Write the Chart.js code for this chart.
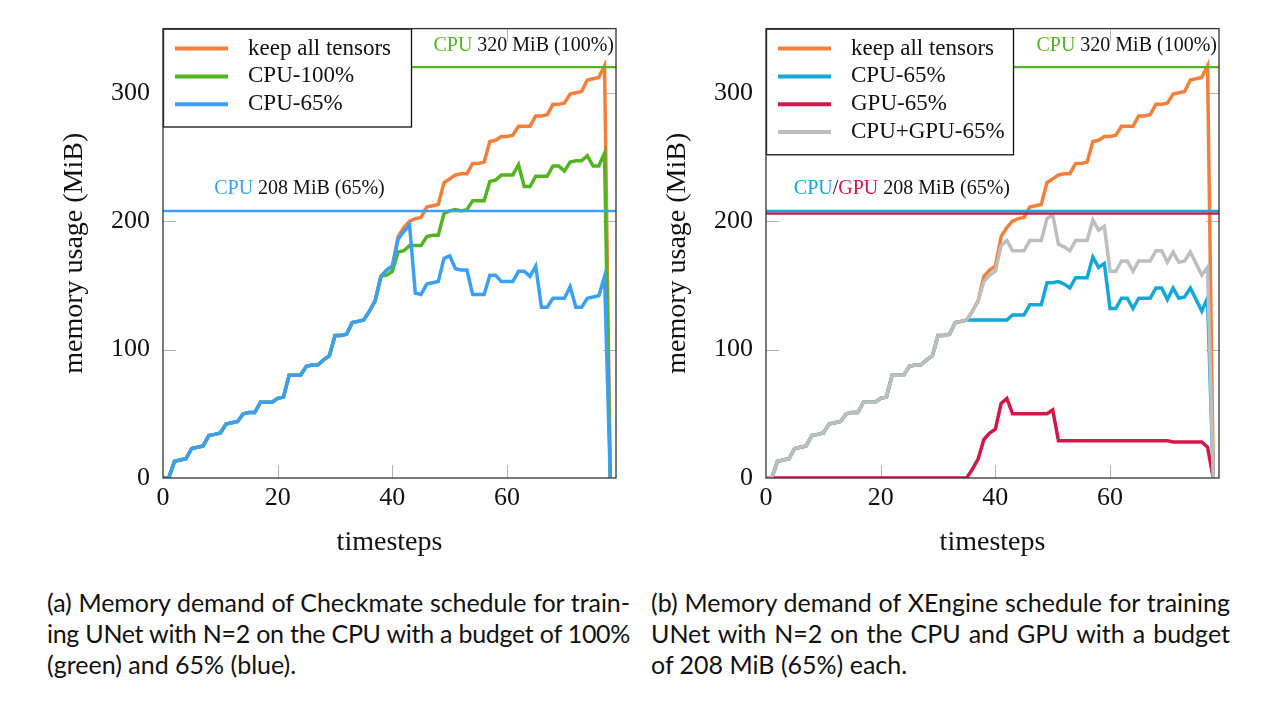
<!DOCTYPE html>
<html><head><meta charset="utf-8">
<script src="https://cdn.jsdelivr.net/npm/chart.js@4.4.1/dist/chart.umd.min.js"></script>
<style>
body{margin:0;background:#fff;width:1278px;height:718px;position:relative;overflow:hidden}
.wrap{position:absolute;top:0;width:639px;height:580px}
.cap{position:absolute;font-family:Lato,'Noto Sans',sans-serif;font-size:25px;color:#111;line-height:31px}
.cap div{white-space:nowrap}
.j{text-align:justify;text-align-last:justify}
</style></head>
<body>
<div class="wrap" style="left:0"><canvas id="ca" width="639" height="580"></canvas></div>
<div class="wrap" style="left:639px"><canvas id="cb" width="639" height="580"></canvas></div>
<div class="cap" style="left:47px;top:587px;width:583px">
<div class="j"><span>(a) Memory demand of Checkmate schedule for train-</span></div>
<div class="j"><span>ing UNet with N=2 on the CPU with a budget of 100%</span></div>
<div><span>(green) and 65% (blue).</span></div>
</div>
<div class="cap" style="left:651px;top:587px;width:579px">
<div class="j"><span>(b) Memory demand of XEngine schedule for training</span></div>
<div class="j"><span>UNet with N=2 on the CPU and GPU with a budget</span></div>
<div><span>of 208 MiB (65%) each.</span></div>
</div>
<script>
// ---------- data ----------
const timesteps = [0,1,2,3,4,5,6,7,8,9,10,11,12,13,14,15,16,17,18,19,20,21,22,23,24,25,26,27,28,29,30,31,32,33,34,35,36,37,38,39,40,41,42,43,44,45,46,47,48,49,50,51,52,53,54,55,56,57,58,59,60,61,62,63,64,65,66,67,68,69,70,71,72,73,74,75,76,77,78];
const xTicks = [0,20,40,60];
const yTicks = [0,100,200,300];
const keepAll = [0,0,13,14,15,23,24,25,33,34, 35,42,43,44,50,51,51,59,59,59, 62,63,80,80,80,87,88,88,92,95, 111,111,112,121,122,123,130,138,157,162, 165,188,195,200,202,203,211,212,213,230, 233,236,237,237,245,245,246,262,263,266, 266,267,274,274,274,282,282,283,291,291, 292,299,300,301,310,311,312,321,0];
const cpu100A = [0,0,13,14,15,23,24,25,33,34, 35,42,43,44,50,51,51,59,59,59, 62,63,80,80,80,87,88,88,92,95, 111,111,112,121,122,123,130,138,157,158, 161,176,177,181,181,181,188,189,189,206, 208,209,208,209,216,216,216,231,232,236, 236,236,244,227,227,235,235,235,243,243, 239,246,247,247,251,243,243,253,0];
const cpu65A = [0,0,13,14,15,23,24,25,33,34, 35,42,43,44,50,51,51,59,59,59, 62,63,80,80,80,87,88,88,92,95, 111,111,112,121,122,123,130,138,157,162, 165,186,192,197,144,143,151,152,153,171, 173,163,162,162,143,143,143,158,158,153, 153,153,161,161,157,165,133,133,140,140, 140,149,133,133,140,141,142,157,0];
const cpu65B = [0,0,13,14,15,23,24,25,33,34, 35,42,43,44,50,51,51,59,59,59, 62,63,80,80,80,87,88,88,92,95, 111,111,112,121,122,123,123,123,123,123, 123,123,123,127,127,127,135,135,135,152, 152,153,151,148,156,156,156,172,164,167, 132,132,140,140,132,140,140,140,148,148, 139,148,140,141,148,139,130,140,0];
const gpu65B = [0,0,0,0,0,0,0,0,0,0, 0,0,0,0,0,0,0,0,0,0, 0,0,0,0,0,0,0,0,0,0, 0,0,0,0,0,0,7,15,30,35, 38,58,62,50,50,50,50,50,50,50, 53,29,29,29,29,29,29,29,29,29, 29,29,29,29,29,29,29,29,29,29, 29,28,28,28,28,28,28,24,0];
const cpuGpuB = [0,0,13,14,15,23,24,25,33,34, 35,42,43,44,50,51,51,59,59,59, 62,63,80,80,80,87,88,88,92,95, 111,111,112,121,122,123,130,138,153,158, 161,181,185,177,177,177,185,185,185,202, 205,182,180,177,185,185,185,201,193,196, 161,161,169,169,161,169,169,169,177,177, 168,176,168,169,176,167,158,164,0];
const budgetCPU100 = [320, 320];
const budgetCPU65 = [208, 208];
const budgetGPU65 = [206, 206];
const budgetX = [0, 79];

// ---------- caption fitting ----------
document.querySelectorAll('.cap').forEach(cap=>{
  const W = parseFloat(cap.style.width);
  cap.querySelectorAll('span').forEach(sp=>{
    const nat = sp.getBoundingClientRect().width;
    if (nat > W) sp.parentNode.style.letterSpacing = ((W-nat)/sp.textContent.length - 0.05)+'px';
  });
  cap.querySelectorAll('div').forEach(d=>{ d.style.whiteSpace='normal'; });
});

// ---------- style ----------
const C = {orange:'#F47F3B', green:'#52B51F', blue:'#3AA0F4', cyan:'#14A8D8', red:'#D51649', gray:'#BEBEBE', text:'#111'};
const SERIF = "'Liberation Serif','Times New Roman',serif";

const pts = arr => arr.map((v,i)=>({x:timesteps[i], y:v}));
const bpts = arr => arr.map((v,i)=>({x:budgetX[i], y:v}));
function line(label, arr, color, order, w){return {label, data:pts(arr), borderColor:color, backgroundColor:color, borderWidth:w||3.5, order, pointRadius:0, tension:0, fill:false};}
function budget(arr, color, order){return {label:'', data:bpts(arr), borderColor:color, borderWidth:2.4, order, pointRadius:0, fill:false};}

const deco = {
  id:'deco',
  beforeDatasetsDraw(chart){
    const {ctx, chartArea:a, scales:{x,y}} = chart;
    ctx.save();
    ctx.strokeStyle='#b3b3b3'; ctx.lineWidth=1;
    ctx.beginPath();
    xTicks.forEach(v=>{ if(v<=x.min||v>=x.max) return; const p=Math.round(x.getPixelForValue(v))+0.5;
      ctx.moveTo(p,a.bottom); ctx.lineTo(p,a.bottom-13); ctx.moveTo(p,a.top); ctx.lineTo(p,a.top+13);});
    yTicks.forEach(v=>{ if(v<=y.min||v>=y.max) return; const p=Math.round(y.getPixelForValue(v))+0.5;
      ctx.moveTo(a.left,p); ctx.lineTo(a.left+13,p); ctx.moveTo(a.right,p); ctx.lineTo(a.right-13,p);});
    ctx.stroke(); ctx.restore();
  },
  afterDatasetsDraw(chart, args, o){
    const {ctx, chartArea:a, scales:{x,y}} = chart;
    ctx.save();
    o.notes.forEach(n=>{
      ctx.font = '20px '+SERIF; ctx.textBaseline='alphabetic';
      const w = n.parts.reduce((s,p)=>s+ctx.measureText(p[0]).width,0);
      let px = n.align==='right' ? a.right-2-w : x.getPixelForValue(n.x)-w/2;
      const py = y.getPixelForValue(n.y)+n.dy;
      n.parts.forEach(p=>{ctx.fillStyle=p[1]; ctx.textAlign='left'; ctx.fillText(p[0],px,py); px+=ctx.measureText(p[0]).width;});
    });
    const items = o.legend.map(i=>chart.data.datasets[i]);
    const L = a.left, T = a.top, W = o.legendWidth, H = items.length*27.8+14.5;
    ctx.fillStyle='#fff'; ctx.fillRect(L,T,W,H);
    ctx.strokeStyle='#111'; ctx.lineWidth=1.3; ctx.strokeRect(L+0.5,T+0.5,W,H);
    ctx.font='23px '+SERIF; ctx.textBaseline='middle'; ctx.textAlign='left';
    items.forEach((d,i)=>{
      const cy = T+20+i*27.8;
      ctx.strokeStyle=d.borderColor; ctx.lineWidth=4; ctx.beginPath(); ctx.moveTo(L+12,cy); ctx.lineTo(L+65,cy); ctx.stroke();
      ctx.fillStyle=C.text; ctx.fillText(d.label, L+85, cy);
    });
    ctx.strokeStyle='#333'; ctx.lineWidth=1.3; ctx.strokeRect(a.left,a.top,a.width,a.height);
    ctx.restore();
  }
};

function makeChart(id, datasets, yWidth, padRight, titlePad, decoOpts){
  return new Chart(document.getElementById(id), {
    type:'line',
    data:{datasets},
    plugins:[deco],
    options:{
      responsive:false, animation:false, devicePixelRatio:1,
      layout:{padding:{left:0,right:padRight,top:25,bottom:0}},
      plugins:{legend:{display:false}, tooltip:{enabled:false}, deco:decoOpts},
      scales:{
        x:{type:'linear', min:0, max:79,
          afterFit(s){s.height=102;},
          afterBuildTicks(s){s.ticks=xTicks.map(v=>({value:v}));},
          grid:{display:false, drawTicks:false},
          border:{display:false},
          ticks:{padding:5, color:C.text, font:{family:SERIF,size:26}, maxRotation:0},
          title:{display:true, text:'timesteps', color:C.text, font:{family:SERIF,size:28}, padding:{bottom:21,top:0}}},
        y:{type:'linear', min:0, max:350,
          afterFit(s){s.width=yWidth;},
          afterBuildTicks(s){s.ticks=yTicks.map(v=>({value:v}));},
          grid:{display:false, drawTicks:false},
          border:{display:false},
          ticks:{padding:13, color:C.text, font:{family:SERIF,size:26}},
          title:{display:true, text:'memory usage (MiB)', color:C.text, font:{family:SERIF,size:28}, padding:{top:titlePad,bottom:0}}}
      }
    }
  });
}

makeChart('ca', [
  budget(budgetCPU65, C.blue, 0),
  budget(budgetCPU100, C.green, 0),
  line('keep all tensors', keepAll, C.orange, 3),
  line('CPU-100%', cpu100A, C.green, 2),
  line('CPU-65%', cpu65A, C.blue, 1)
], 163, 23, 58, {
  legend:[2,3,4], legendWidth:248,
  notes:[
    {x:23.8, y:budgetCPU65[0], dy:-17, parts:[['CPU',C.blue],[' 208 MiB (65%)',C.text]]},
    {align:'right', y:budgetCPU100[0], dy:-16, parts:[['CPU',C.green],[' 320 MiB (100%)',C.text]]}
  ]
});

makeChart('cb', [
  budget(budgetCPU65, C.cyan, 0),
  budget(budgetGPU65, C.red, 0),
  budget(budgetCPU100, C.green, 0),
  line('keep all tensors', keepAll, C.orange, 4),
  line('CPU-65%', cpu65B, C.cyan, 3),
  line('GPU-65%', gpu65B, C.red, 2),
  line('CPU+GPU-65%', cpuGpuB, C.gray, 1)
], 127, 59, 22, {
  legend:[3,4,5,6], legendWidth:247,
  notes:[
    {x:23.7, y:budgetCPU65[0], dy:-17, parts:[['CPU',C.cyan],['/',C.text],['GPU',C.red],[' 208 MiB (65%)',C.text]]},
    {align:'right', y:budgetCPU100[0], dy:-16, parts:[['CPU',C.green],[' 320 MiB (100%)',C.text]]}
  ]
});
</script>
</body></html>
